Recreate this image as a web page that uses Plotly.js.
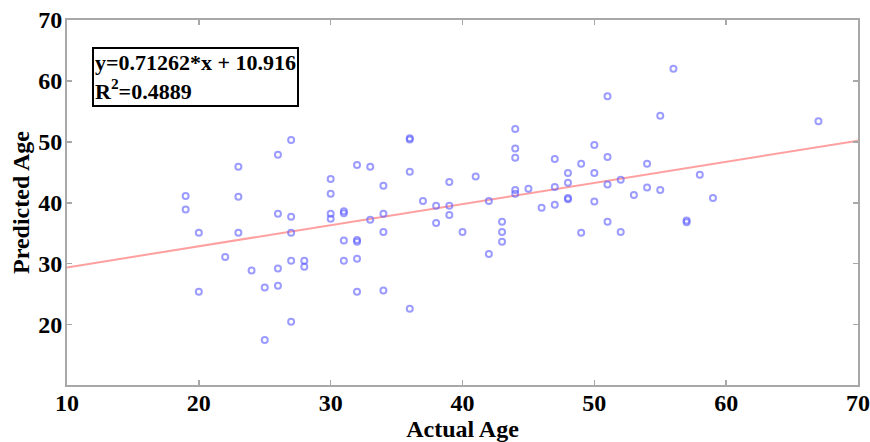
<!DOCTYPE html>
<html>
<head>
<meta charset="utf-8">
<script src="https://cdn.plot.ly/plotly-3.0.1.min.js"></script>
<style>
  html, body { margin: 0; padding: 0; background: #ffffff; }
  #chart { width: 870px; height: 442px; }
</style>
</head>
<body>
<div id="chart"></div>
<script>
// Scatter data: actual vs predicted age
const actualAge = [
  19, 19,
  20, 20,
  22,
  23, 23, 23,
  24,
  25, 25,
  26, 26, 26, 26,
  27, 27, 27, 27, 27,
  28, 28,
  30, 30, 30, 30,
  31, 31, 31, 31,
  32, 32, 32, 32, 32,
  33, 33,
  34, 34, 34, 34,
  36, 36, 36, 36,
  37,
  38, 38,
  39, 39, 39,
  40,
  41,
  42, 42,
  43, 43, 43,
  44, 44, 44, 44, 44,
  45,
  46,
  47, 47, 47,
  48, 48, 48, 48,
  49, 49,
  50, 50, 50,
  51, 51, 51, 51,
  52, 52,
  53,
  54, 54,
  55, 55,
  56,
  57, 57,
  58,
  59,
  67
];
const predictedAge = [
  41.1, 38.9,
  35.1, 25.4,
  31.1,
  45.9, 41.0, 35.1,
  28.9,
  26.1, 17.5,
  47.9, 38.2, 29.2, 26.4,
  50.3, 37.7, 35.1, 30.5, 20.5,
  30.5, 29.5,
  43.9, 41.5, 38.2, 37.4,
  38.6, 38.3, 33.8, 30.5,
  46.2, 33.9, 33.6, 30.8, 25.4,
  45.9, 37.2,
  42.8, 38.2, 35.2, 25.6,
  50.6, 50.4, 45.1, 22.6,
  40.3,
  39.5, 36.7,
  43.4, 39.5, 38.0,
  35.2,
  44.3,
  40.3, 31.6,
  36.9, 35.2, 33.6,
  52.1, 48.9, 47.4, 42.1, 41.5,
  42.3,
  39.2,
  47.2, 42.6, 39.7,
  44.9, 43.3, 40.8, 40.6,
  46.4, 35.1,
  49.5, 44.9, 40.2,
  57.5, 47.5, 43.0, 36.9,
  43.8, 35.2,
  41.3,
  46.4, 42.5,
  54.3, 42.1,
  62.0,
  37.1, 36.8,
  44.6,
  40.8,
  53.4
];
// Fitted line as drawn in the figure
const fitX = [10, 70];
const fitY = [29.4, 50.2];

const xTicks = [10, 20, 30, 40, 50, 60, 70];
const yTicks = [20, 30, 40, 50, 60, 70];

const eqLine1 = 'y=0.71262*x + 10.916';
const eqLine2 = 'R<sup>2</sup>=0.4889';

const serif = 'Liberation Serif, Times New Roman, serif';

const traces = [
  {
    x: fitX, y: fitY, type: 'scatter', mode: 'lines',
    line: { color: 'rgba(255,120,120,0.7)', width: 2 },
    hoverinfo: 'skip', showlegend: false
  },
  {
    x: actualAge, y: predictedAge, type: 'scatter', mode: 'markers',
    marker: { symbol: 'circle-open', size: 6, color: 'rgba(90,90,255,0.6)', line: { width: 2, color: 'rgba(90,90,255,0.6)' } },
    showlegend: false
  }
];

const axisCommon = {
  showline: true, linecolor: '#a8a8a8', linewidth: 2, mirror: 'allticks',
  ticks: 'inside', ticklen: 5, tickwidth: 1.5, tickcolor: '#a8a8a8',
  showgrid: false, zeroline: false,
  tickfont: { family: serif, size: 24, color: '#000', weight: 'bold' }
};

const layout = {
  width: 870, height: 442,
  margin: { l: 67, r: 12, t: 20, b: 57 },
  paper_bgcolor: '#ffffff', plot_bgcolor: '#ffffff',
  xaxis: Object.assign({}, axisCommon, {
    range: [10, 70], tickvals: xTicks, ticktext: xTicks.map(String),
    ticklabelstandoff: -5,
    title: { text: '<b>Actual Age</b>', font: { family: serif, size: 24, color: '#000' }, standoff: 0 }
  }),
  yaxis: Object.assign({}, axisCommon, {
    range: [10.1, 70], tickvals: yTicks, ticktext: yTicks.map(String),
    ticklabelstandoff: -2,
    title: { text: '<b>Predicted Age</b>', font: { family: serif, size: 24, color: '#000' }, standoff: 2 }
  }),
  annotations: [{
    xref: 'paper', yref: 'paper', x: 0.031, y: 0.926,
    xanchor: 'left', yanchor: 'top', align: 'left', showarrow: false,
    text: '<b>' + eqLine1 + '<br>' + eqLine2 + '</b>',
    font: { family: serif, size: 22, color: '#000' },
    bordercolor: '#000', borderwidth: 2, borderpad: 1, bgcolor: '#fff'
  }]
};

Plotly.newPlot('chart', traces, layout, { displayModeBar: false, staticPlot: true });
</script>
</body>
</html>
